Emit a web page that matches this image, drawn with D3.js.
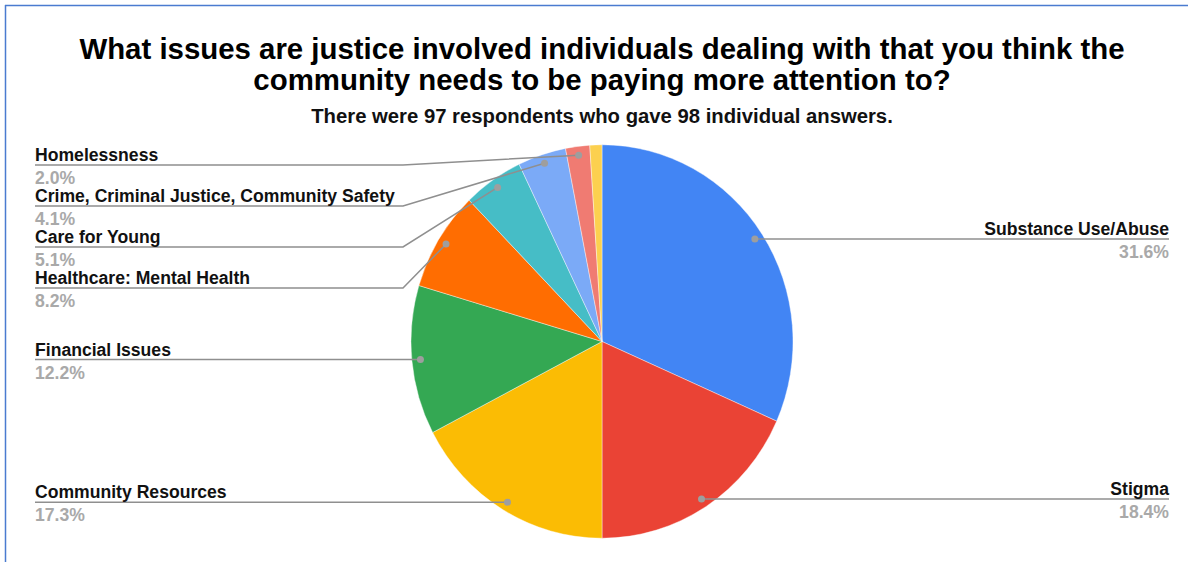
<!DOCTYPE html>
<html>
<head>
<meta charset="utf-8">
<script src="https://cdn.jsdelivr.net/npm/d3@7"></script>
<style>
  html, body { margin: 0; padding: 0; background: #fff; }
  svg { display: block; font-family: "Liberation Sans", Arial, sans-serif; }
</style>
</head>
<body>
<svg id="chart" width="1188" height="562"></svg>
<script>
// Survey answers (count of individual answers per issue)
const categories = [
  "Substance Use/Abuse",
  "Stigma",
  "Community Resources",
  "Financial Issues",
  "Healthcare: Mental Health",
  "Care for Young",
  "Crime, Criminal Justice, Community Safety",
  "Homelessness",
  "Other"
];
const counts = [31, 18, 17, 12, 8, 5, 4, 2, 1];
const colors = ["#4285F4", "#EA4335", "#FBBC04", "#34A853", "#FF6D01",
                "#46BDC6", "#7BAAF7", "#F07B72", "#FCD04F"];
const labelled = [true, true, true, true, true, true, true, true, false];

const titleLines = [
  "What issues are justice involved individuals dealing with that you think the",
  "community needs to be paying more attention to?"
];
const subtitle = "There were 97 respondents who gave 98 individual answers.";

const W = 1188, H = 562;
const svg = d3.select("#chart");

// Frame lines
svg.append("line").attr("x1", 5).attr("x2", W).attr("y1", 5.5).attr("y2", 5.5)
  .attr("stroke", "#4a7bd0").attr("stroke-width", 1.5);
svg.append("line").attr("x1", 5.5).attr("x2", 5.5).attr("y1", 5).attr("y2", H)
  .attr("stroke", "#4a7bd0").attr("stroke-width", 1.5);

// Title and subtitle
svg.append("g").selectAll("text").data(titleLines).join("text")
  .attr("x", 602).attr("y", (d, i) => 59 + i * 31)
  .attr("text-anchor", "middle")
  .attr("font-size", 29.4).attr("font-weight", "bold").attr("fill", "#000")
  .text(d => d);
svg.append("text").attr("x", 602).attr("y", 123)
  .attr("text-anchor", "middle")
  .attr("font-size", 20.3).attr("font-weight", "bold").attr("fill", "#111")
  .text(subtitle);

// Pie geometry
const cx = 602, cy = 341.5, r = 191, sy = 1.03;
const total = d3.sum(counts);
const fmt = d3.format(".1f");
const data = categories.map((c, i) => ({ name: c, value: counts[i], color: colors[i], show: labelled[i] }));

const pie = d3.pie().value(d => d.value).sort(null);
const arcs = pie(data);
const arc = d3.arc().innerRadius(0).outerRadius(r);

svg.append("g")
  .attr("transform", `translate(${cx},${cy}) scale(1,${sy})`)
  .selectAll("path").data(arcs).join("path")
  .attr("d", arc)
  .attr("fill", d => d.data.color)
  .attr("stroke", "#fff").attr("stroke-width", 0.4);

// Anchor dot for each slice, near the rim at its mid-angle
const dotR = r * 0.955;
arcs.forEach(a => {
  const m = (a.startAngle + a.endAngle) / 2;
  a.dx = cx + dotR * Math.sin(m);
  a.dy = cy - dotR * Math.cos(m) * sy;
  a.left = Math.sin(m) < 0;
});

// Stack labels on each side so they do not overlap
const gap = 41, topBound = 165;
function place(list) {
  list.sort((a, b) => a.dy - b.dy);
  let prev = -Infinity;
  list.forEach((a, i) => {
    const y = i === 0 ? Math.max(a.dy, topBound) : Math.max(a.dy, prev + gap);
    a.ly = y; prev = y;
  });
}
const shown = arcs.filter(a => a.data.show);
const leftSide = shown.filter(a => a.left);
const rightSide = shown.filter(a => !a.left);
place(leftSide); place(rightSide);

const leftX = 35, rightX = 1169;
const elbowLeft = cx - r - 8, elbowRight = cx + r + 8;
const lineCol = "#8f8f8f";
const labelSize = 17.6;

const lab = svg.append("g");
shown.forEach(a => {
  const straight = Math.abs(a.ly - a.dy) < 3;
  let pts;
  if (a.left) {
    pts = straight ? [[leftX, a.ly], [a.dx, a.ly]]
                   : [[leftX, a.ly], [elbowLeft, a.ly], [a.dx, a.dy]];
  } else {
    pts = straight ? [[rightX, a.ly], [a.dx, a.ly]]
                   : [[rightX, a.ly], [elbowRight, a.ly], [a.dx, a.dy]];
  }
  lab.append("path").attr("d", d3.line()(pts))
    .attr("fill", "none").attr("stroke", lineCol).attr("stroke-width", 1.5);
  lab.append("circle").attr("cx", a.dx).attr("cy", straight ? a.ly : a.dy).attr("r", 3.5)
    .attr("fill", "#9e9e9e");

  const x = a.left ? leftX : rightX;
  const anchor = a.left ? "start" : "end";
  lab.append("text").attr("x", x).attr("y", a.ly - 4)
    .attr("text-anchor", anchor).attr("font-size", labelSize).attr("font-weight", "bold")
    .attr("fill", "#111").text(a.data.name);
  lab.append("text").attr("x", x).attr("y", a.ly + 19)
    .attr("text-anchor", anchor).attr("font-size", labelSize).attr("font-weight", "bold")
    .attr("fill", "#a9a9a9").text(fmt(a.data.value / total * 100) + "%");
});
</script>
</body>
</html>
